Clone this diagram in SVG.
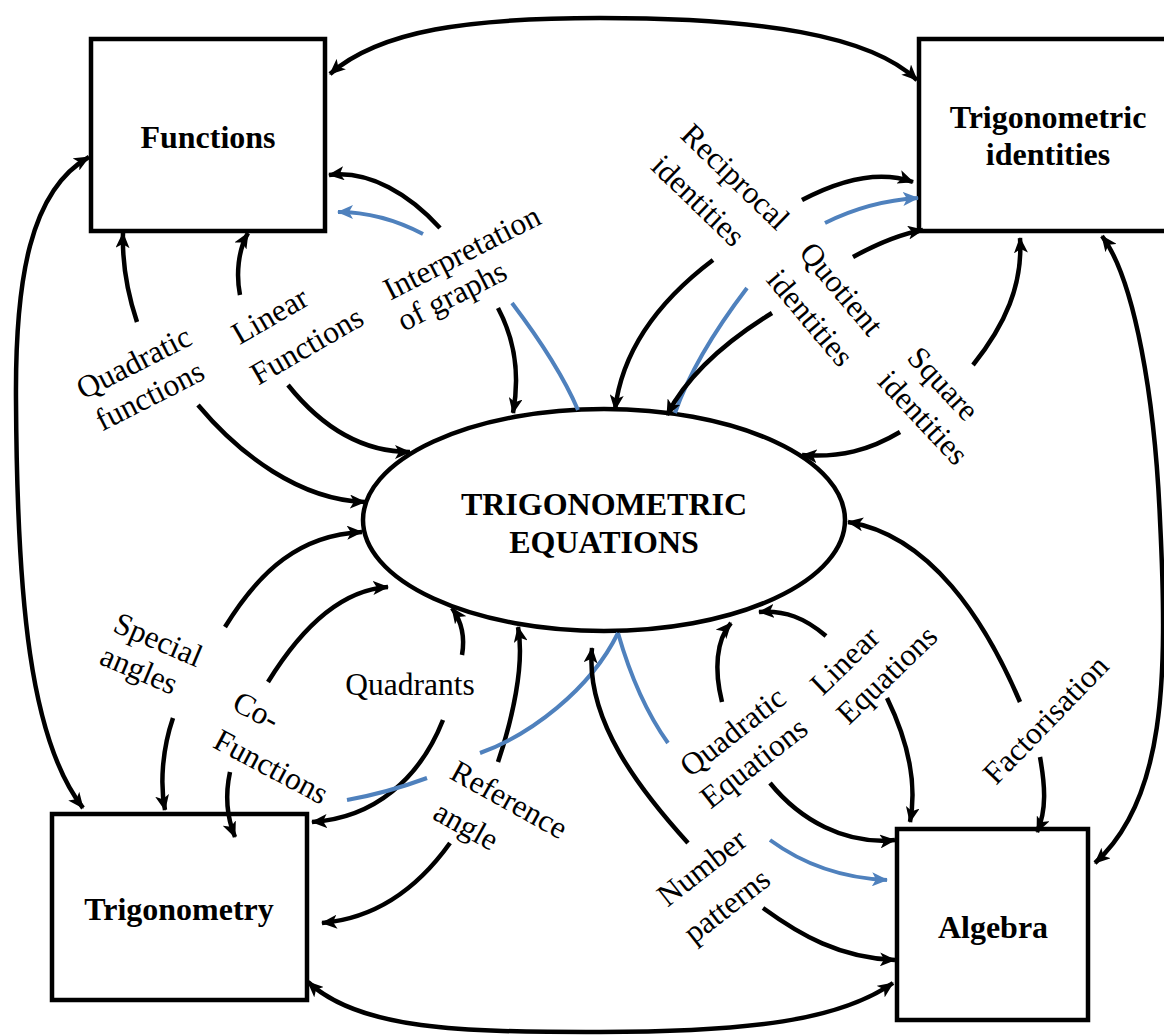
<svg xmlns="http://www.w3.org/2000/svg" width="1164" height="1035" viewBox="0 0 1164 1035">
<style>
.box{fill:#fff;stroke:#000;stroke-width:4.5}
.nt{font-family:"Liberation Serif","Times New Roman",serif;font-weight:bold;font-size:32px;fill:#000;text-anchor:middle}
.lt{font-family:"Liberation Serif","Times New Roman",serif;font-size:31.5px;fill:#000;text-anchor:middle}
.c{fill:none;stroke:#000;stroke-width:4.5;marker-end:url(#ah)}
.c2{fill:none;stroke:#000;stroke-width:4.5;marker-start:url(#ah);marker-end:url(#ah)}
.b{fill:none;stroke:#4f81bd;stroke-width:4}
.ba{fill:none;stroke:#4f81bd;stroke-width:4;marker-end:url(#bh)}
</style>
<defs>
<marker id="ah" markerUnits="userSpaceOnUse" markerWidth="16" markerHeight="14" refX="15" refY="7" orient="auto-start-reverse" viewBox="0 0 16 14"><path d="M0,0 L16,7 L0,14 L4,7 z" fill="#000"/></marker>
<marker id="bh" markerUnits="userSpaceOnUse" markerWidth="16" markerHeight="14" refX="15" refY="7" orient="auto" viewBox="0 0 16 14"><path d="M0,0 L16,7 L0,14 L4,7 z" fill="#4f81bd"/></marker>
</defs>
<rect width="1164" height="1035" fill="#fff"/>

<g id="node-functions">
<rect class="box" x="91" y="39" width="234" height="192"/>
<text class="nt" x="208" y="148">Functions</text>
</g>
<g id="node-trig-identities">
<rect class="box" x="919" y="39" width="260" height="192"/>
<text class="nt" x="1048" y="128">Trigonometric</text>
<text class="nt" x="1048" y="165">identities</text>
</g>
<g id="node-trigonometry">
<rect class="box" x="52" y="814" width="255" height="186"/>
<text class="nt" x="179" y="920">Trigonometry</text>
</g>
<g id="node-algebra">
<rect class="box" x="897" y="829" width="191" height="191"/>
<text class="nt" x="993" y="938">Algebra</text>
</g>
<g id="node-equations">
<ellipse class="box" cx="604" cy="520" rx="241" ry="111"/>
<text class="nt" x="604" y="515">TRIGONOMETRIC</text>
<text class="nt" x="604" y="553">EQUATIONS</text>
</g>

<g id="connectors">
<path class="c2" d="M330,74 C380,30 470,18 600,18 C760,18 870,35 917,80"/>
<path class="c2" d="M89,157 C30,190 15,280 16,400 C17,600 30,740 83,808"/>
<path class="c2" d="M1102,236 C1135,280 1155,400 1160,520 C1168,680 1165,800 1095,863"/>
<path class="c2" d="M308,982 C360,1030 460,1032 600,1032 C750,1032 840,1020 893,983"/>

<path class="c" d="M137,322 C128,295 122,265 123,233"/>
<path class="c" d="M240,295 C236,275 238,250 248,233"/>
<path class="c" d="M440,228 C410,195 370,170 329,175"/>
<path class="ba" d="M423,234 C400,222 370,212 338,212"/>
<path class="c" d="M498,308 C515,340 520,375 513,413"/>
<path class="b" d="M512,303 C540,340 563,375 578,410"/>

<path class="c" d="M198,405 C240,455 300,500 365,502"/>
<path class="c" d="M288,385 C320,425 360,452 410,452"/>
<path class="c" d="M225,627 C260,570 300,535 362,532"/>
<path class="c" d="M268,682 C300,630 340,590 388,587"/>

<path class="c" d="M173,718 C162,750 160,785 165,810"/>
<path class="c" d="M230,772 C225,795 226,815 235,837"/>
<path class="c" d="M462,655 C465,638 462,622 452,608"/>
<path class="c" d="M443,720 C420,778 375,818 312,822"/>
<path class="c" d="M498,762 C512,720 525,665 518,627"/>
<path class="c" d="M450,843 C420,885 380,918 322,923"/>

<path class="b" d="M618,633 C590,690 530,735 480,753"/>
<path class="b" d="M427,778 C400,788 375,795 347,800"/>
<path class="b" d="M618,633 C630,675 648,715 668,743"/>

<path class="c" d="M688,843 C640,790 585,720 592,648"/>
<path class="c" d="M763,908 C800,935 840,958 895,960"/>
<path class="ba" d="M770,840 C800,862 840,878 887,880"/>
<path class="c" d="M722,702 C714,670 716,640 731,623"/>
<path class="c" d="M770,783 C800,820 845,845 895,840"/>
<path class="c" d="M826,636 C805,618 785,610 759,612"/>
<path class="c" d="M887,698 C905,735 918,780 910,822"/>
<path class="c" d="M1020,702 C985,620 930,535 848,522"/>
<path class="c" d="M1040,757 C1045,785 1047,810 1037,832"/>

<path class="c" d="M802,200 C840,180 880,170 913,182"/>
<path class="ba" d="M825,223 C855,208 885,200 918,198"/>
<path class="c" d="M853,257 C875,245 900,234 923,230"/>
<path class="c" d="M973,365 C1005,325 1023,285 1020,238"/>
<path class="c" d="M900,432 C870,450 840,458 802,455"/>

<path class="c" d="M713,260 C660,300 622,350 615,410"/>
<path class="b" d="M747,288 C715,330 690,370 675,413"/>
<path class="c" d="M772,313 C720,345 685,380 667,415"/>
</g>

<g id="labels">
<text class="lt" transform="translate(134,363) rotate(-27)" y="10">Quadratic</text>
<text class="lt" transform="translate(150,396) rotate(-27)" y="10">functions</text>
<text class="lt" transform="translate(270,316) rotate(-30)" y="10">Linear</text>
<text class="lt" transform="translate(307,346) rotate(-30)" y="10">Functions</text>
<text class="lt" transform="translate(462,253) rotate(-27)" y="10">Interpretation</text>
<text class="lt" transform="translate(452,296) rotate(-27)" y="10">of graphs</text>
<text class="lt" transform="translate(735,177) rotate(44)" y="10">Reciprocal</text>
<text class="lt" transform="translate(698,201) rotate(44)" y="10">identities</text>
<text class="lt" transform="translate(841,289) rotate(50)" y="10">Quotient</text>
<text class="lt" transform="translate(810,318) rotate(50)" y="10">identities</text>
<text class="lt" transform="translate(943,384) rotate(47)" y="10">Square</text>
<text class="lt" transform="translate(923,418) rotate(47)" y="10">identities</text>
<text class="lt" transform="translate(158,640) rotate(23)" y="10">Special</text>
<text class="lt" transform="translate(139,670) rotate(23)" y="10">angles</text>
<text class="lt" transform="translate(256,711) rotate(28)" y="10">Co-</text>
<text class="lt" transform="translate(271,767) rotate(28)" y="10">Functions</text>
<text class="lt" x="410" y="695">Quadrants</text>
<text class="lt" transform="translate(509,800) rotate(29)" y="10">Reference</text>
<text class="lt" transform="translate(466,826) rotate(29)" y="10">angle</text>
<text class="lt" transform="translate(733,732) rotate(-38)" y="10">Quadratic</text>
<text class="lt" transform="translate(754,763) rotate(-38)" y="10">Equations</text>
<text class="lt" transform="translate(845,661) rotate(-44)" y="10">Linear</text>
<text class="lt" transform="translate(887,675) rotate(-44)" y="10">Equations</text>
<text class="lt" transform="translate(1046,720) rotate(-46)" y="10">Factorisation</text>
<text class="lt" transform="translate(702,868) rotate(-38)" y="10">Number</text>
<text class="lt" transform="translate(727,906) rotate(-38)" y="10">patterns</text>
</g>
</svg>
